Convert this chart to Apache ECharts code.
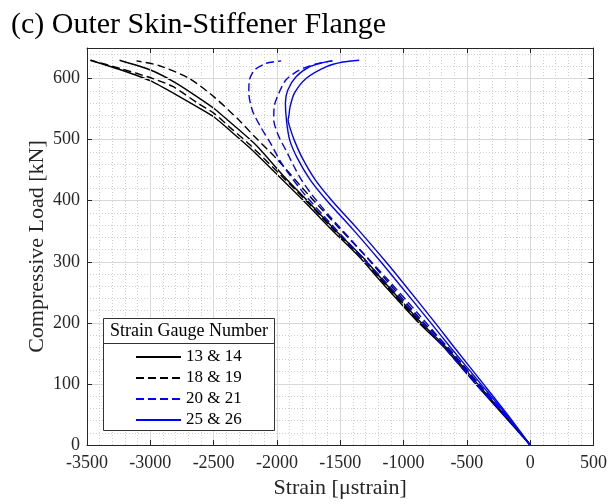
<!DOCTYPE html>
<html><head><meta charset="utf-8">
<script src="https://cdn.jsdelivr.net/npm/echarts@6/dist/echarts.min.js"></script>
<style>html,body{margin:0;padding:0;background:#fff}#c{width:610px;height:504px}</style>
</head><body><div id="c"></div>
<script>
// ---- data (strain in microstrain, load in kN) ----
const legendNames = ['13 & 14', '18 & 19', '20 & 21', '25 & 26'];

const sg13Load   = [0, 50, 100, 160, 200, 271, 307, 353, 400, 441, 487, 513, 537, 550, 568, 596, 614, 630];
const sg13Strain = [0, -215, -430, -681, -880, -1193, -1345, -1570, -1790, -1990, -2217, -2360, -2497, -2600, -2750, -2998, -3230, -3474];

const sg14Load   = [0, 50, 100, 160, 200, 271, 307, 353, 400, 441, 490, 516, 551, 566, 593, 614, 630];
const sg14Strain = [0, -205, -415, -665, -860, -1170, -1320, -1545, -1760, -1950, -2160, -2300, -2497, -2600, -2800, -2998, -3243];

const sg18Load   = [0, 50, 100, 160, 200, 271, 307, 353, 400, 441, 492, 518, 543, 558, 587, 600, 616, 630];
const sg18Strain = [0, -210, -425, -675, -870, -1180, -1330, -1555, -1770, -1965, -2216, -2360, -2497, -2613, -2823, -2980, -3230, -3470];

const sg19Load   = [0, 50, 100, 160, 200, 271, 307, 355, 408, 468, 505, 532, 570, 600, 621, 629];
const sg19Strain = [0, -200, -405, -650, -840, -1140, -1290, -1508, -1744, -2000, -2177, -2300, -2497, -2691, -2928, -3109];

const sg20Load   = [0, 50, 100, 160, 215, 271, 320, 375, 410, 445, 467, 494, 519, 546, 576, 598, 614, 625, 629];
const sg20Strain = [0, -210, -430, -680, -915, -1160, -1385, -1630, -1780, -1910, -1980, -2050, -2124, -2191, -2222, -2217, -2177, -2085, -1967];

const sg21Load   = [0, 50, 100, 160, 215, 271, 320, 375, 410, 437, 456, 483, 505, 532, 554, 576, 598, 614, 624, 629];
const sg21Strain = [0, -200, -415, -655, -885, -1125, -1345, -1585, -1725, -1815, -1865, -1930, -1985, -2025, -2022, -1985, -1928, -1823, -1691, -1561];

const sg25Load   = [0, 50, 100, 160, 200, 271, 300, 353, 400, 435, 470, 500, 520, 532, 540, 554, 576, 600, 619, 627, 630];
const sg25Strain = [0, -180, -370, -600, -750, -1025, -1140, -1360, -1565, -1700, -1800, -1865, -1898, -1912, -1905, -1896, -1862, -1770, -1613, -1480, -1350];

const sg26Load   = [0, 50, 100, 160, 200, 271, 300, 353, 400, 435, 470, 500, 532, 560, 581, 603, 619, 626, 629];
const sg26Strain = [0, -190, -390, -630, -785, -1065, -1180, -1400, -1605, -1740, -1840, -1900, -1925, -1933, -1915, -1849, -1744, -1640, -1563];

const xMin = -3500, xMax = 500, xStep = 500, xMinorStep = 100;
const yMin = 0, yMax = 650, yStep = 100, yMinorStep = 20;

// ---- chart ----
const FONT = "'Liberation Serif', 'DejaVu Serif', serif";
const FRAME = '#262626';
const chart = echarts.init(document.getElementById('c'), null, {renderer: 'canvas'});

function pairs(xs, ys) { return xs.map((x, i) => [x, ys[i]]); }
function mk(name, xs, ys, color, dashed, z) {
  return {
    type: 'line', name: name, data: pairs(xs, ys),
    xAxisIndex: 0, yAxisIndex: 0,
    symbol: 'none', showSymbol: false, smooth: 0.25, z: z,
    lineStyle: {color: color, width: 1.4, type: dashed ? [8, 4] : 'solid'},
    itemStyle: {color: color},
    emphasis: {disabled: true}
  };
}

const majorSplit = {show: true, lineStyle: {color: '#d8d8d8', width: 1}};
const minorSplit = {show: true, lineStyle: {color: '#cfcfcf', width: 1, type: [1, 2]}};
const tickIn = {show: true, inside: true, length: 5, lineStyle: {color: FRAME, width: 1}};
const lineOn = {show: true, onZero: false, lineStyle: {color: FRAME, width: 1}};

chart.setOption({
  animation: false,
  backgroundColor: '#fff',
  textStyle: {fontFamily: FONT},
  title: {
    text: '(c) Outer Skin-Stiffener Flange',
    left: 6, top: 5,
    textStyle: {fontFamily: FONT, fontSize: 30, fontWeight: 'normal', color: '#000'}
  },
  grid: {left: 87, right: 15, top: 48, bottom: 57.5, containLabel: false},
  xAxis: [
    {type: 'value', position: 'bottom', min: xMin, max: xMax, interval: xStep, z: 3,
     name: 'Strain [\u03bcstrain]', nameLocation: 'middle', nameGap: 32, nameMoveOverlap: false,
     nameTextStyle: {fontFamily: FONT, fontSize: 22, color: '#262626'},
     axisLine: lineOn, axisTick: tickIn, splitLine: majorSplit,
     axisLabel: {fontFamily: FONT, fontSize: 18, color: '#262626', margin: 9, formatter: v => String(v)}},
    {type: 'value', position: 'top', min: xMin, max: xMax, interval: xStep, z: 3,
     axisLine: lineOn, axisTick: tickIn, splitLine: {show: false}, axisLabel: {show: false}},
    {type: 'value', position: 'bottom', min: xMin, max: xMax, interval: xMinorStep, z: 1,
     axisLine: {show: false}, axisTick: {show: false}, axisLabel: {show: false}, splitLine: minorSplit}
  ],
  yAxis: [
    {type: 'value', position: 'left', min: yMin, max: yMax, interval: yStep, z: 3,
     name: 'Compressive Load [kN]', nameLocation: 'middle', nameGap: 39, nameRotate: 90,
     nameMoveOverlap: false,
     nameTextStyle: {fontFamily: FONT, fontSize: 22, color: '#262626'},
     axisLine: lineOn, axisTick: tickIn, splitLine: majorSplit,
     axisLabel: {fontFamily: FONT, fontSize: 18, color: '#262626', margin: 7,
                 formatter: v => (v > 600 ? '' : String(v))}},
    {type: 'value', position: 'right', min: yMin, max: yMax, interval: yStep, z: 3,
     axisLine: lineOn, axisTick: tickIn, splitLine: {show: false}, axisLabel: {show: false}},
    {type: 'value', position: 'left', min: yMin, max: yMax, interval: yMinorStep, z: 1,
     axisLine: {show: false}, axisTick: {show: false}, axisLabel: {show: false}, splitLine: minorSplit}
  ],
  legend: {
    data: legendNames, orient: 'vertical', left: 130, top: 343.5, z: 20,
    itemWidth: 45, itemHeight: 10, itemGap: 4,
    itemStyle: {color: 'rgba(0,0,0,0)', borderColor: 'rgba(0,0,0,0)', borderWidth: 0, opacity: 0},
    textStyle: {fontFamily: FONT, fontSize: 17, color: '#000'},
    selectedMode: false
  },
  graphic: [
    {type: 'rect', z: 15, shape: {x: 103.5, y: 318.5, width: 171, height: 112},
     style: {fill: '#fff', stroke: '#333', lineWidth: 1}},
    {type: 'line', z: 16, shape: {x1: 103.5, y1: 343.5, x2: 274.5, y2: 343.5},
     style: {stroke: '#333', lineWidth: 1}},
    {type: 'text', z: 16, x: 189, y: 331,
     style: {text: 'Strain Gauge Number', fontFamily: FONT, fontSize: 18, fill: '#000',
             textAlign: 'center', textVerticalAlign: 'middle'}}
  ],
  series: [
    mk(legendNames[0], sg13Strain, sg13Load, '#000000', false, 2),
    mk(legendNames[0], sg14Strain, sg14Load, '#000000', false, 2),
    mk(legendNames[1], sg18Strain, sg18Load, '#000000', true, 3),
    mk(legendNames[1], sg19Strain, sg19Load, '#000000', true, 3),
    mk(legendNames[2], sg20Strain, sg20Load, '#0000ff', true, 4),
    mk(legendNames[2], sg21Strain, sg21Load, '#0000ff', true, 4),
    mk(legendNames[3], sg25Strain, sg25Load, '#0000ff', false, 5),
    mk(legendNames[3], sg26Strain, sg26Load, '#0000ff', false, 5)
  ]
});
</script></body></html>
